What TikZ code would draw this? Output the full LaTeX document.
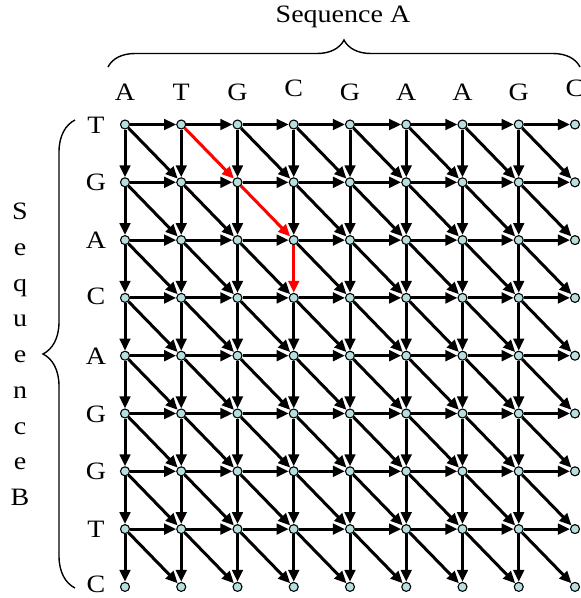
\documentclass[tikz,border=0pt]{standalone}
\usepackage{fontspec}
\setmainfont{Liberation Serif}[FakeStretch=1.12]
\usetikzlibrary{arrows.meta,decorations.pathreplacing,backgrounds}
\definecolor{dotfill}{RGB}{182,224,224}
\begin{document}
\begin{tikzpicture}[x=1pt,y=-1pt,
  dot/.style={circle,draw=black,line width=1.1pt,fill=dotfill,minimum size=9pt,inner sep=0pt},
  edge/.style={line width=3pt,-{Triangle[length=12pt,width=10.5pt]}},
  hit/.style={edge,red},
  lbl/.style={font=\fontsize{25}{30}\selectfont,inner sep=0pt,anchor=base},
  brace/.style={decorate,line width=1.4pt,decoration={brace,amplitude=#1}}]
\useasboundingbox (0,0) rectangle (581,598);

% lattice points
\foreach \i in {0,...,8}
  \foreach \j in {0,...,8}
    \node[dot] (n\i-\j) at ({125+56.25*\i},{124.5+57.8*\j}) {};

% moves: right, down, diagonal
\begin{scope}[on background layer]
\foreach \i in {0,...,7}
  \foreach \j in {0,...,7} {
    \pgfmathtruncatemacro\ni{\i+1}
    \pgfmathtruncatemacro\nj{\j+1}
    \draw[edge] (n\i-\j) -- (n\ni-\j);
    \ifnum\i\j=32 \else \draw[edge] (n\i-\j) -- (n\i-\nj); \fi
    \ifnum\i\j=10 \else\ifnum\i\j=21 \else \draw[edge] (n\i-\j) -- (n\ni-\nj); \fi\fi
  }
% highlighted path
\draw[hit] (n1-0) -- (n2-1);
\draw[hit] (n2-1) -- (n3-2);
\draw[hit] (n3-2) -- (n3-3);
\end{scope}

% sequence A along the top
\foreach [count=\k from 0] \c/\dy in {A/0,T/0,G/0,C/3.5,G/0,A/0,A/0,G/0,C/3.5}
  \node[lbl] (a\k) at ({125+56.25*\k},{100-\dy}) {\c};

% sequence B down the side
\foreach [count=\k from 0] \c/\dy in {T/0,G/0,A/0,C/2,A/0,G/0,G/0,T/0,C/3}
  \node[lbl] (b\k) at (96,{133+57.8*\k-\dy}) {\c};

% braces and titles
\draw[brace=27pt] (108,67) -- (580,67);
\node[lbl] (titleA) at (343,22) {Sequence A};
\draw[brace=32pt] (75,588) -- (75,120);
\foreach [count=\k from 0] \c in {S,e,q,u,e,n,c,e,B}
  \node[lbl] (s\k) at (20,{219.5+35.75*\k}) {\c};
\end{tikzpicture}
\end{document}
